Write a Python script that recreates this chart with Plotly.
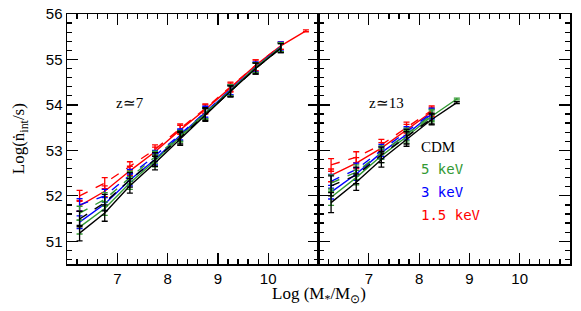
import plotly.graph_objects as go

# ---------------- data ----------------
MODELS = ["1.5 keV", "3 keV", "5 keV", "CDM"]
COLORS = {"1.5 keV": "#ff0000", "3 keV": "#0000ff", "5 keV": "#339933", "CDM": "#000000"}

# z ~ 7 panel
MASS_Z7 = [6.25, 6.75, 7.25, 7.75, 8.25, 8.75, 9.25, 9.75, 10.25]
MASS_Z7_EXT = [6.25, 6.75, 7.25, 7.75, 8.25, 8.75, 9.25, 9.75, 10.25, 10.75]

Z7_SOLID = {
    "CDM":     [51.18, 51.62, 52.22, 52.72, 53.25, 53.78, 54.30, 54.80, 55.25],
    "5 keV":   [51.31, 51.72, 52.28, 52.77, 53.30, 53.80, 54.32, 54.82, 55.27],
    "3 keV":   [51.42, 51.82, 52.35, 52.80, 53.33, 53.83, 54.33, 54.83, 55.28],
    "1.5 keV": [51.78, 52.10, 52.55, 52.97, 53.45, 53.90, 54.38, 54.87, 55.30, 55.63],
}
Z7_DASHED = {
    "CDM":     [51.49, 51.85, 52.35, 52.80, 53.28, 53.80, 54.30, 54.80, 55.25],
    "5 keV":   [51.62, 51.92, 52.40, 52.85, 53.32, 53.82, 54.32, 54.82, 55.27],
    "3 keV":   [51.80, 52.00, 52.45, 52.88, 53.35, 53.85, 54.33, 54.83, 55.28],
    "1.5 keV": [52.00, 52.28, 52.65, 53.02, 53.48, 53.92, 54.40, 54.87, 55.30],
}
Z7_ERR = {
    "CDM":     [0.17, 0.18, 0.16, 0.15, 0.14, 0.14, 0.12, 0.12, 0.10],
    "5 keV":   [0.15, 0.15, 0.14, 0.13, 0.12, 0.12, 0.12, 0.11, 0.10],
    "3 keV":   [0.14, 0.14, 0.13, 0.12, 0.12, 0.12, 0.11, 0.11, 0.10],
    "1.5 keV": [0.12, 0.12, 0.10, 0.10, 0.10, 0.10, 0.10, 0.12, 0.08, 0.02],
}

# z ~ 13 panel
MASS_Z13 = [6.25, 6.75, 7.25, 7.75, 8.25]
MASS_Z13_EXT = [6.25, 6.75, 7.25, 7.75, 8.25, 8.75]

Z13_SOLID = {
    "CDM":     [51.85, 52.30, 52.80, 53.25, 53.68, 54.05],
    "5 keV":   [51.97, 52.40, 52.88, 53.30, 53.75, 54.13],
    "3 keV":   [52.08, 52.48, 52.95, 53.35, 53.80],
    "1.5 keV": [52.45, 52.72, 53.05, 53.45, 53.85],
}
Z13_DASHED = {
    "CDM":     [52.22, 52.45, 52.90, 53.30, 53.70],
    "5 keV":   [52.28, 52.52, 52.95, 53.35, 53.78],
    "3 keV":   [52.32, 52.58, 53.00, 53.40, 53.82],
    "1.5 keV": [52.68, 52.85, 53.12, 53.50, 53.88],
}
Z13_ERR = {
    "CDM":     [0.22, 0.18, 0.17, 0.16, 0.12, 0.02],
    "5 keV":   [0.18, 0.16, 0.15, 0.14, 0.12, 0.02],
    "3 keV":   [0.15, 0.14, 0.13, 0.12, 0.11],
    "1.5 keV": [0.14, 0.12, 0.12, 0.12, 0.10],
}

X_TICKS = [7, 8, 9, 10]
Y_TICKS = [51, 52, 53, 54, 55, 56]

# ---------------- figure ----------------
fig = go.Figure()


def add_series(xs, ys, err, color, dash, xa, ya):
    n = len(ys)
    fig.add_trace(go.Scatter(
        x=xs[:n], y=ys, mode="lines", xaxis=xa, yaxis=ya,
        line=dict(color=color, width=1.4, dash=dash),
        error_y=dict(type="data", array=err[:n], visible=True,
                     color=color, thickness=1.3, width=3),
        showlegend=False, hoverinfo="skip"))


for m in MODELS:
    c = COLORS[m]
    xs7 = MASS_Z7_EXT if len(Z7_SOLID[m]) > len(MASS_Z7) else MASS_Z7
    add_series(MASS_Z7, Z7_DASHED[m], Z7_ERR[m], c, "dash", "x", "y")
    add_series(xs7, Z7_SOLID[m], Z7_ERR[m], c, "solid", "x", "y")
    xs13 = MASS_Z13_EXT if len(Z13_SOLID[m]) > len(MASS_Z13) else MASS_Z13
    add_series(MASS_Z13, Z13_DASHED[m], Z13_ERR[m], c, "dash", "x2", "y2")
    add_series(xs13, Z13_SOLID[m], Z13_ERR[m], c, "solid", "x2", "y2")

tickfont = dict(family="Liberation Sans, Arial, sans-serif", size=15, color="black")
minor = dict(dtick=0.2, ticklen=5, ticks="inside", tickcolor="black", tickwidth=1.2)

base = dict(ticks="inside", ticklen=11, tickwidth=1.2, tickcolor="black",
            showline=True, linecolor="black", linewidth=1.5,
            showgrid=False, zeroline=False, tickfont=tickfont, minor=minor,
            automargin=False)
xcommon = dict(range=[6, 11], tickvals=X_TICKS, ticktext=[str(v) for v in X_TICKS], **base)
ycommon = dict(range=[50.5, 56], tickvals=Y_TICKS, **base)

fig.update_layout(
    template="none",
    width=581, height=311,
    margin=dict(l=67, r=11, t=14, b=47, autoexpand=False),
    paper_bgcolor="white", plot_bgcolor="white",
    showlegend=False,
    xaxis=dict(domain=[0, 0.5], anchor="y", **xcommon),
    xaxis2=dict(domain=[0.5, 1], anchor="y2", **xcommon),
    yaxis=dict(anchor="x", **ycommon),
    yaxis2=dict(anchor="x2", showticklabels=False, **ycommon),
    # mirrored frames (top / right) with inside ticks, no labels
    xaxis3=dict(overlaying="x", side="top", anchor="y", showticklabels=False, **xcommon),
    xaxis4=dict(overlaying="x2", side="top", anchor="y2", showticklabels=False, **xcommon),
    yaxis3=dict(overlaying="y", side="right", anchor="x", showticklabels=False, **ycommon),
    yaxis4=dict(overlaying="y2", side="right", anchor="x2", showticklabels=False, **ycommon),
)
# invisible helper traces so overlay axes get drawn
fig.add_trace(go.Scatter(x=[6], y=[50.5], xaxis="x3", yaxis="y3", mode="markers",
                         marker=dict(opacity=0), hoverinfo="skip", showlegend=False))
fig.add_trace(go.Scatter(x=[6], y=[50.5], xaxis="x4", yaxis="y4", mode="markers",
                         marker=dict(opacity=0), hoverinfo="skip", showlegend=False))

serif = "Liberation Serif, Times New Roman, serif"
mono = "DejaVu Sans Mono, monospace"
annots = [
    dict(x=7.25, y=54.05, xref="x", yref="y", text="z≃7", font=dict(family=serif, size=15)),
    dict(x=7.35, y=54.05, xref="x2", yref="y2", text="z≃13", font=dict(family=serif, size=15)),
    dict(x=8.0, y=53.08, xref="x2", yref="y2", text="CDM", xanchor="left",
         font=dict(family=serif, size=15, color=COLORS["CDM"])),
    dict(x=8.0, y=52.58, xref="x2", yref="y2", text="5 keV", xanchor="left",
         font=dict(family=mono, size=14, color=COLORS["5 keV"])),
    dict(x=8.0, y=52.08, xref="x2", yref="y2", text="3 keV", xanchor="left",
         font=dict(family=mono, size=14, color=COLORS["3 keV"])),
    dict(x=8.0, y=51.58, xref="x2", yref="y2", text="1.5 keV", xanchor="left",
         font=dict(family=mono, size=14, color=COLORS["1.5 keV"])),
    dict(x=0.5, y=-0.125, xref="paper", yref="paper", xanchor="center", yanchor="middle",
         text="Log (M<sub>*</sub>/M<sub>⊙</sub>)", font=dict(family=serif, size=17)),
    dict(x=-0.093, y=0.5, xref="paper", yref="paper", textangle=-90,
         xanchor="center", yanchor="middle",
         text="Log(ṅ<sub>int</sub>/s)", font=dict(family=serif, size=17)),
]
for a in annots:
    a.setdefault("showarrow", False)
    a["font"].setdefault("color", "black")
fig.update_layout(annotations=annots)

fig.write_html("out.html",
               config={"displayModeBar": False, "staticPlot": True},
               post_script="document.body.style.margin='0';document.body.style.overflow='hidden';")
